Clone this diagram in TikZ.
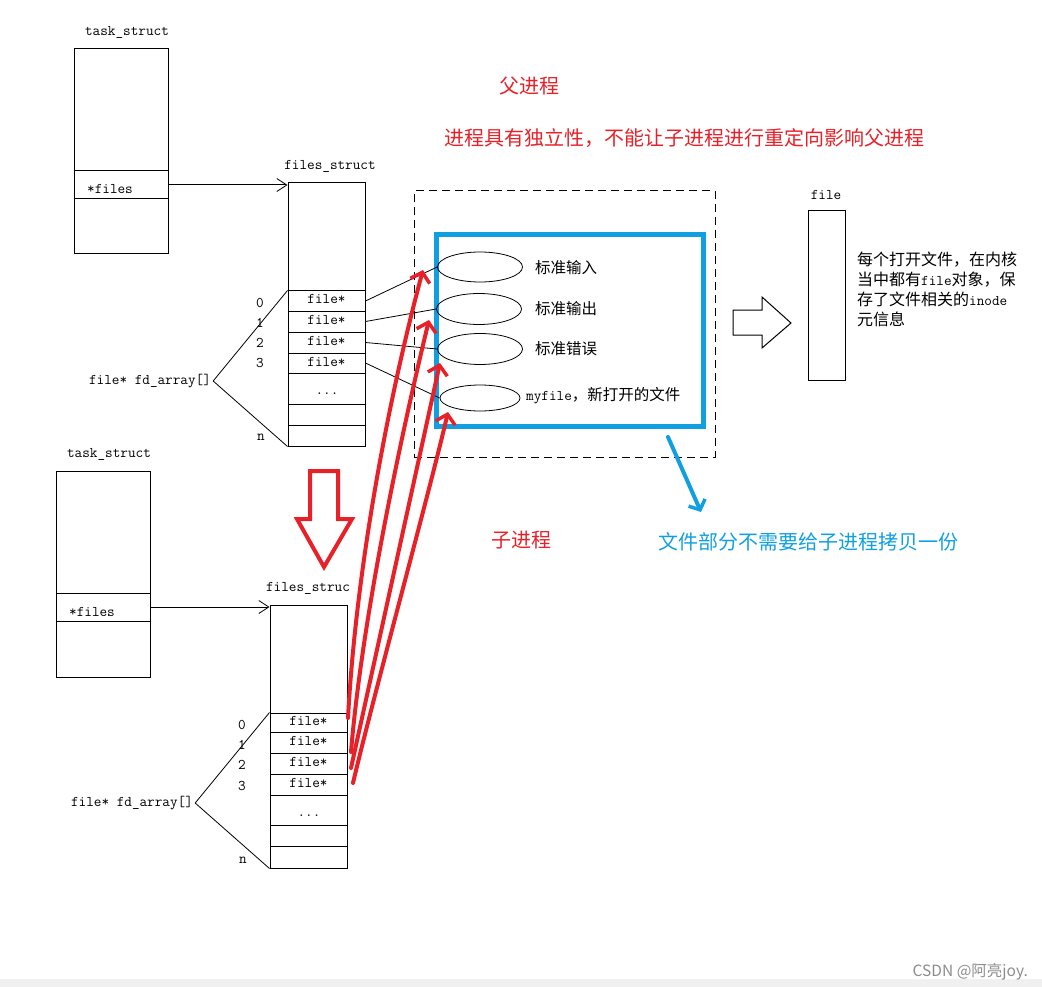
\documentclass[tikz,border=0pt]{standalone}
\usepackage{fontspec}
\usetikzlibrary{arrows.meta,shapes.geometric}
\newfontfamily\cjkf{Noto Sans CJK SC}
\definecolor{myred}{RGB}{232,32,40}
\definecolor{myblue}{RGB}{16,160,225}
\newcommand\lblfont{\ttfamily\fontsize{14.8}{17}\selectfont}
\newcommand\cjksmall{\cjkf\fontsize{15.5}{20}\selectfont}
\newcommand\cjkdesc{\cjkf\fontsize{16}{20}\selectfont}
\newcommand\cjkbig{\cjkf\fontsize{20}{22}\selectfont}
\begin{document}
\begin{tikzpicture}[x=1pt,y=-1pt,
  struct/.style={draw,line width=1pt,inner sep=0},
  cell/.style={draw,line width=1pt,inner sep=0,minimum width=77pt,font=\lblfont,text height=9pt,text depth=3pt},
  txt/.style={inner sep=0,font=\lblfont},
  thinline/.style={line width=0.8pt},
  ptr/.style={line width=1pt,-{Straight Barb[length=10pt,width=13pt,line width=0.8pt]}},
  redarr/.style={myred,line width=4pt,line cap=round,-{Straight Barb[length=9pt,width=20pt,line width=3.5pt]}},
  bluearr/.style={myblue,line width=4pt,line cap=round,-{Straight Barb[length=8pt,width=18pt,line width=3.5pt]}},
  oval/.style={ellipse,draw,line width=0.8pt,inner sep=0},
  cjklbl/.style={inner sep=0,font=\cjksmall,anchor=west},
  bigred/.style={inner sep=0,font=\cjkbig,text=myred},
]
\useasboundingbox (0,0) rectangle (1042,987);
\fill[black!6] (0,979) rectangle (1042,987);

% ---------- parent process ----------
\node[txt] (ts1lbl) at (127,32) {task\_struct};
\node[struct,minimum width=94pt,minimum height=205pt] (ts1) at (121,151.5) {};
\node[struct,minimum width=94pt,minimum height=28pt] (ts1f) at (121,185) {};
\node[txt] (ts1ft) at (110,189) {*files};

\node[txt] (fs1lbl) at (330,166) {files\_struct};
\node[struct,minimum width=77pt,minimum height=263pt] (fs1) at (326.5,314.5) {};
\node[cell,minimum height=20pt] (r10) at (326.5,301) {file*};
\node[cell,minimum height=21pt] (r11) at (326.5,321.5) {file*};
\node[cell,minimum height=21pt] (r12) at (326.5,342.5) {file*};
\node[cell,minimum height=20pt] (r13) at (326.5,363) {file*};
\node[cell,minimum height=31pt] (r14) at (326.5,388.5) {};
\node[cell,minimum height=21pt] (r15) at (326.5,414.5) {};
\node[cell,minimum height=21pt] (r16) at (326.5,435.5) {};
\node[txt] (d1) at (327,394) {...};
\node[txt] (i10) at (260,303) {0};
\node[txt] (i11) at (260,323) {1};
\node[txt] (i12) at (260,343) {2};
\node[txt] (i13) at (260,363) {3};
\node[txt] (i1n) at (261,437) {n};
\node[txt] (fd1) at (150,381) {file* fd\_array[]};
\draw[thinline] ([xshift=2pt]fd1.east) -- (r10.north west);
\draw[thinline] ([xshift=2pt]fd1.east) -- (fs1.south west);
\draw[ptr] (ts1f.east) -- (ts1f.east -| fs1.west);

% ---------- file objects ----------
\node[draw,line width=1pt,dash pattern=on 8pt off 5pt,minimum width=301pt,minimum height=266pt,inner sep=0] (dbox) at (564.5,324) {};
\node[draw=myblue,line width=5pt,minimum width=267pt,minimum height=191pt,inner sep=0] (fbox) at (569.5,330.5) {};
\node[oval,minimum width=85pt,minimum height=30pt] (e1) at (480,267) {};
\node[oval,minimum width=85pt,minimum height=31pt] (e2) at (479,309) {};
\node[oval,minimum width=85pt,minimum height=31pt] (e3) at (480,349) {};
\node[oval,minimum width=80pt,minimum height=26pt] (e4) at (480,398) {};
\node[cjklbl] (l1) at (535,268) {标准输入};
\node[cjklbl] (l2) at (535,309) {标准输出};
\node[cjklbl] (l3) at (535,349) {标准错误};
\node[cjklbl] (l4) at (526,396) {{\lblfont myfile}，新打开的文件};
\draw[thinline] (r10.east) -- (e1.west);
\draw[thinline] (r11.east) -- (e2.west);
\draw[thinline] (r12.east) -- (e3.west);
\draw[thinline] (r13.east) -- (e4.west);

% hollow right arrow
\draw[line width=1pt] (733,310) -- (762,310) -- (762,297) -- (791,323) -- (762,348) -- (762,335) -- (733,335) -- cycle;
\node[txt] (filelbl) at (826,195) {file};
\node[struct,minimum width=37pt,minimum height=169pt] (filebox) at (826.5,295.5) {};
\node[inner sep=0,anchor=west,align=left,font=\cjkdesc] (desc) at (857,289) {每个打开文件，在内核\\当中都有{\lblfont file}对象，保\\存了文件相关的{\lblfont inode}\\元信息};

% texts
\node[bigred] (parent) at (529,86) {父进程};
\node[bigred] (note) at (684,138) {进程具有独立性，不能让子进程进行重定向影响父进程};
\node[bigred] (child) at (521.5,540) {子进程};
\node[inner sep=0,font=\cjkbig,text=myblue] (copy) at (808.5,542) {文件部分不需要给子进程拷贝一份};
\coordinate (b1) at (668,437);
\coordinate (b2) at (701,512);
\draw[bluearr] (b1) -- (b2);

% red hollow down arrow
\draw[myred,line width=4pt,line join=miter] (310,471) -- (338,471) -- (338,519) -- (352,519) -- (324,567) -- (297,519) -- (310,519) -- cycle;

% ---------- child process ----------
\node[txt] (ts2lbl) at (109,454) {task\_struct};
\node[struct,minimum width=94pt,minimum height=206pt] (ts2) at (103,574) {};
\node[struct,minimum width=94pt,minimum height=28pt] (ts2f) at (103,607) {};
\node[txt] (ts2ft) at (92,612) {*files};

\node[txt] (fs2lbl) at (308,588) {files\_struc};
\node[struct,minimum width=77pt,minimum height=263pt] (fs2) at (308.5,736.5) {};
\node[cell,minimum height=19pt] (r20) at (308.5,722.5) {file*};
\node[cell,minimum height=21pt] (r21) at (308.5,742.5) {file*};
\node[cell,minimum height=21pt] (r22) at (308.5,763.5) {file*};
\node[cell,minimum height=21pt] (r23) at (308.5,784.5) {file*};
\node[cell,minimum height=30pt] (r24) at (308.5,810) {};
\node[cell,minimum height=21pt] (r25) at (308.5,835.5) {};
\node[cell,minimum height=22pt] (r26) at (308.5,857) {};
\node[txt] (d2) at (309,816) {...};
\node[txt] (i20) at (242,725) {0};
\node[txt] (i21) at (242,745) {1};
\node[txt] (i22) at (242,765) {2};
\node[txt] (i23) at (242,786) {3};
\node[txt] (i2n) at (243,860) {n};
\node[txt] (fd2) at (132,803) {file* fd\_array[]};
\draw[thinline] ([xshift=2pt]fd2.east) -- (r20.north west);
\draw[thinline] ([xshift=2pt]fd2.east) -- (fs2.south west);
\draw[ptr] (ts2f.east) -- (ts2f.east -| fs2.west);

% red arrows from child fd table to shared files
\coordinate (s1) at (348,718);
\coordinate (s2) at (351,752);
\coordinate (s3) at (351,768);
\coordinate (s4) at (353,783);
\coordinate (t1) at (423,270);
\coordinate (t2) at (429,320);
\coordinate (t3) at (440,363);
\coordinate (t4) at (448,412);
\draw[redarr] (s1) .. controls (356,570) and (388,400) .. (t1);
\draw[redarr] (s2) .. controls (362,620) and (400,440) .. (t2);
\draw[redarr] (s3) -- (t3);
\draw[redarr] (s4) .. controls (375,690) and (430,490) .. (t4);

% watermark
\node[anchor=east,inner sep=0,text=black!45,font=\cjkf\fontsize{15.5}{15.5}\selectfont] (wm) at (1028,972) {CSDN @阿亮joy.};
\end{tikzpicture}
\end{document}
